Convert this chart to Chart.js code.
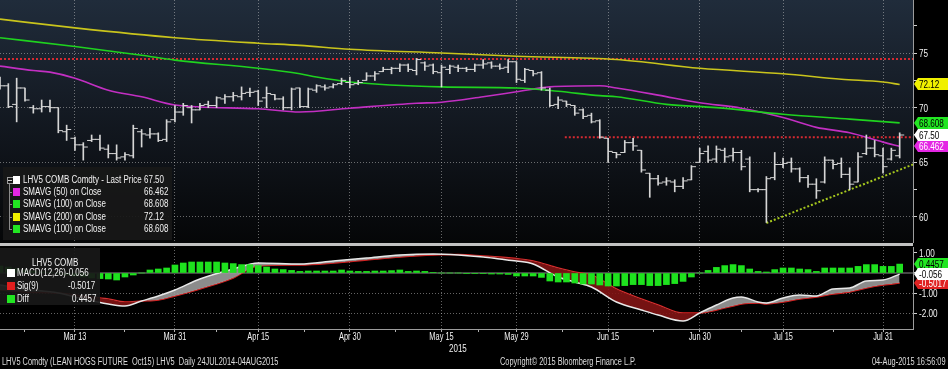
<!DOCTYPE html>
<html>
<head>
<meta charset="utf-8">
<script src="https://cdn.jsdelivr.net/npm/chart.js@4.4.1/dist/chart.umd.min.js"></script>
<style>
  html, body { margin: 0; padding: 0; background: #000; }
  body { width: 948px; height: 369px; position: relative; overflow: hidden;
         font-family: "Liberation Sans", Arial, sans-serif; color: #f2f2f2; }
  canvas { position: absolute; left: 0; }
  #main { top: 0; }
  #macd { top: 246px; }
  .sep { position: absolute; left: 0; top: 243px; width: 913px; height: 3px; background: #c2c2c2; }
  .box { position: absolute; background: rgba(24, 24, 24, 0.93); }
  .t { position: absolute; white-space: pre; font-size: 10px; line-height: 12px;
       transform: scaleX(0.8); transform-origin: 0 0; }
  .sw { position: absolute; width: 7px; height: 8px; }
  .tree { position: absolute; background: #8a8a8a; }
  .foot { position: absolute; top: 356px; white-space: pre; font-size: 10px; line-height: 12px; color: #dcdcdc;
          transform: scaleX(0.74); transform-origin: 0 0; }
</style>
</head>
<body>
<canvas id="main" width="948" height="243"></canvas>
<div class="sep"></div>
<canvas id="macd" width="948" height="123"></canvas>

<!-- price legend -->
<div class="box" style="left:3px;top:167px;width:169px;height:73px;"></div>
<div class="tree" style="left:7px;top:177px;width:5px;height:5px;background:none;border:1px solid #9a9a9a;"></div>
<div class="tree" style="left:8px;top:180px;width:4px;height:1px;background:#cfcfcf;"></div>
<div class="tree" style="left:9px;top:184px;width:1px;height:45px;"></div>
<div class="tree" style="left:9px;top:192px;width:3px;height:1px;"></div>
<div class="tree" style="left:9px;top:204px;width:3px;height:1px;"></div>
<div class="tree" style="left:9px;top:217px;width:3px;height:1px;"></div>
<div class="tree" style="left:9px;top:229px;width:3px;height:1px;"></div>
<div class="sw" style="left:13px;top:176px;background:#ffffff;"></div>
<div class="sw" style="left:13px;top:188px;background:#e426e4;"></div>
<div class="sw" style="left:13px;top:200px;background:#22e622;"></div>
<div class="sw" style="left:13px;top:213px;background:#f0f000;"></div>
<div class="sw" style="left:13px;top:225px;background:#22e622;"></div>
<div class="t" style="left:23px;top:174px;">LHV5 COMB Comdty - Last Price</div>
<div class="t" style="left:23px;top:186px;">SMAVG (50) on Close</div>
<div class="t" style="left:23px;top:198px;">SMAVG (100) on Close</div>
<div class="t" style="left:23px;top:211px;">SMAVG (200) on Close</div>
<div class="t" style="left:23px;top:223px;">SMAVG (100) on Close</div>
<div class="t" style="left:144px;top:174px;">67.50</div>
<div class="t" style="left:144px;top:186px;">66.462</div>
<div class="t" style="left:144px;top:198px;">68.608</div>
<div class="t" style="left:144px;top:211px;">72.12</div>
<div class="t" style="left:144px;top:223px;">68.608</div>

<!-- macd legend -->
<div class="box" style="left:0;top:248px;width:100px;height:57px;"></div>
<div class="t" style="left:32px;top:257px;">LHV5 COMB</div>
<div class="sw" style="left:7px;top:269px;width:8px;background:#ffffff;"></div>
<div class="sw" style="left:7px;top:282px;width:8px;background:#e01e1e;"></div>
<div class="sw" style="left:7px;top:295px;width:8px;background:#22e622;"></div>
<div class="t" style="left:17px;top:267px;">MACD(12,26)</div>
<div class="t" style="left:17px;top:280px;">Sig(9)</div>
<div class="t" style="left:17px;top:293px;">Diff</div>
<div class="t" style="left:66px;top:267px;">-0.056</div>
<div class="t" style="left:68px;top:280px;">-0.5017</div>
<div class="t" style="left:72px;top:293px;">0.4457</div>

<div class="t" style="left:449px;top:343px;">2015</div>
<div class="foot" style="left:2px;">LHV5 Comdty (LEAN HOGS FUTURE  Oct15) LHV5  Daily 24JUL2014-04AUG2015</div>
<div class="foot" style="left:500px;">Copyright© 2015 Bloomberg Finance L.P.</div>
<div class="foot" style="right:2px;transform-origin:100% 0;">04-Aug-2015 16:56:09</div>

<script>
// trading-day index of each dated gridline (day 0 = 2 Mar 2015, last bar = 4 Aug 2015)
const tickIdx = [9, 21, 31, 42, 53, 62, 73, 84, 94, 106];
const tickLabels = ['Mar 13', 'Mar 31', 'Apr 15', 'Apr 30', 'May 15', 'May 29', 'Jun 15', 'Jun 30', 'Jul 15', 'Jul 31'];
const priceTicks = [60, 62.5, 65, 67.5, 70, 72.5, 75, 77.5];
const macdTicks = [1, 0, -1, -2];

// daily OHLC, LHV5
const open = [72.6, 72.0, 70.3, 71.8, 70.0, 69.9, 70.1, 70.0, 67.8, 67.2,
  66.6, 67.0, 67.1, 66.2, 65.8, 65.5, 65.6, 67.8, 67.5, 67.6,
  67.1, 68.9, 69.6, 70.0, 69.8, 70.3, 70.2, 70.8, 71.0, 71.0,
  71.4, 71.5, 70.9, 71.2, 70.8, 70.0, 71.8, 70.1, 71.6, 71.9,
  71.9, 72.2, 72.3, 72.2, 72.5, 72.9, 73.3, 73.5, 73.6, 73.9,
  73.4, 74.1, 73.9, 73.2, 73.5, 73.7, 73.6, 73.5, 73.9, 74.1,
  73.8, 73.7, 74.2, 72.5, 73.4, 73.2, 71.6, 70.3, 70.6, 70.2,
  69.8, 69.3, 68.8, 67.2, 65.9, 65.9, 66.8, 66.1, 64.0, 63.5,
  63.2, 63.2, 62.8, 63.4, 65.0, 66.0, 65.3, 66.1, 65.6, 65.9,
  65.3, 62.5, 62.5, 63.6, 64.8, 65.0, 64.4, 63.6, 63.0, 63.2,
  65.2, 64.9, 63.9, 63.2, 65.8, 66.3, 65.6, 65.3, 65.6];
const high = [72.8, 72.2, 72.7, 71.8, 70.2, 70.7, 70.7, 70.0, 68.4, 67.3,
  66.8, 67.5, 67.5, 66.6, 66.6, 65.9, 68.4, 68.0, 68.1, 67.7,
  68.9, 70.2, 70.4, 70.2, 70.4, 70.6, 71.0, 71.2, 71.4, 71.9,
  71.8, 71.6, 71.9, 71.2, 71.0, 71.8, 71.8, 71.8, 72.1, 72.1,
  72.2, 72.7, 72.8, 72.5, 73.2, 73.3, 73.7, 73.7, 74.0, 74.0,
  74.5, 74.2, 74.0, 73.9, 73.9, 73.9, 73.7, 74.0, 74.4, 74.2,
  74.0, 74.4, 74.2, 73.6, 73.4, 73.3, 71.8, 71.0, 70.6, 70.2,
  69.9, 69.5, 68.9, 67.2, 65.9, 67.0, 67.2, 66.1, 64.0, 63.8,
  63.6, 63.4, 63.6, 64.7, 66.3, 66.5, 66.5, 66.3, 66.3, 66.1,
  65.5, 62.6, 63.7, 65.9, 65.4, 65.4, 64.5, 63.8, 63.5, 65.5,
  65.2, 65.4, 64.5, 65.9, 67.5, 67.0, 66.3, 66.3, 67.7];
const low = [71.7, 70.0, 68.7, 70.6, 69.5, 69.6, 69.6, 67.7, 67.0, 66.1,
  65.2, 66.9, 66.1, 65.4, 65.2, 65.2, 65.4, 66.4, 67.2, 66.9,
  66.9, 68.7, 69.3, 68.6, 69.8, 70.0, 70.0, 70.4, 70.6, 70.7,
  71.0, 70.2, 70.0, 70.7, 69.8, 69.8, 70.0, 70.0, 71.4, 71.6,
  71.8, 72.1, 71.8, 72.1, 72.5, 72.5, 73.3, 73.1, 73.3, 73.3,
  73.0, 73.4, 73.1, 71.9, 73.1, 73.3, 73.3, 73.3, 73.6, 73.6,
  73.5, 73.2, 72.3, 72.3, 72.9, 71.6, 70.1, 69.9, 70.1, 69.3,
  69.0, 68.6, 67.2, 65.0, 65.4, 65.9, 66.1, 64.1, 61.8, 62.9,
  62.9, 62.3, 62.6, 63.4, 65.0, 65.0, 65.0, 65.0, 65.1, 64.3,
  62.3, 62.3, 59.5, 63.4, 64.5, 64.1, 63.2, 62.7, 61.7, 63.1,
  64.4, 63.6, 62.5, 63.2, 65.7, 65.5, 64.0, 65.2, 65.4];
const close = [72.0, 70.1, 71.8, 70.7, 69.9, 70.1, 70.0, 67.9, 68.0, 66.6,
  66.4, 67.1, 66.3, 65.8, 65.4, 65.7, 68.1, 67.6, 67.6, 67.0,
  68.7, 69.6, 70.2, 69.8, 70.2, 70.2, 70.9, 71.0, 71.1, 71.3,
  71.4, 70.6, 71.3, 70.8, 70.0, 71.7, 70.1, 71.7, 72.0, 71.8,
  72.1, 72.5, 72.1, 72.3, 72.9, 73.1, 73.5, 73.6, 73.9, 73.5,
  74.4, 73.8, 73.3, 73.7, 73.8, 73.6, 73.5, 73.9, 74.0, 73.8,
  73.6, 74.2, 72.6, 73.5, 73.1, 71.8, 70.2, 70.7, 70.3, 69.5,
  69.2, 68.7, 67.3, 66.0, 65.7, 66.8, 66.5, 64.3, 63.5, 63.1,
  63.3, 62.8, 63.3, 64.6, 65.8, 65.2, 66.2, 65.5, 65.9, 64.6,
  62.5, 62.5, 63.5, 64.8, 64.9, 64.4, 63.6, 63.0, 62.4, 65.2,
  64.8, 63.9, 63.0, 65.5, 66.3, 65.7, 64.6, 66.1, 67.5];

// moving averages read at [day, value]
const sma50 = [[0, 73.8], [4, 73.4], [6, 73.25], [9, 72.7], [13, 71.6], [17, 71.0], [21, 70.25],
  [31, 69.9], [36, 69.6], [42, 69.95], [50, 70.4], [53, 70.5], [58, 71.0], [62, 71.45], [66, 71.9],
  [72, 72.0], [74, 71.8], [79, 71.15], [84, 70.45], [89, 69.95], [94, 69.1], [98, 68.2],
  [102, 67.7], [106, 66.85], [108, 66.462]];
const sma100 = [[0, 76.4], [9, 75.6], [17, 74.8], [21, 74.35], [31, 73.6], [36, 73.1], [38, 72.8],
  [42, 72.35], [53, 71.9], [62, 71.8], [67, 71.5], [72, 71.1], [74, 71.0], [80, 70.3], [86, 70.0],
  [94, 69.4], [102, 68.95], [108, 68.608]];
const sma200 = [[0, 78.1], [9, 77.3], [21, 76.4], [31, 75.9], [36, 75.7], [42, 75.35], [53, 75.0],
  [62, 74.7], [74, 74.4], [84, 73.6], [94, 73.1], [101, 72.6], [106, 72.35], [108, 72.12]];

// drawn levels
const resistance = 74.45;
const neckline = { from: 67.8, level: 67.3 };
const trendline = [[92, 59.45], [109.6, 64.8]];

// MACD panel, read at [day, value]
const macd = [[0, -0.6], [3, -0.8], [7, -1.0], [10, -1.3], [13, -1.55], [15, -1.65], [17, -1.4],
  [19, -1.15], [21, -0.85], [24, -0.3], [28, 0.2], [31, 0.5], [36, 0.45], [40, 0.6], [44, 0.75],
  [48, 0.9], [52, 0.95], [55, 0.9], [58, 0.8], [60, 0.7], [62, 0.6], [64, 0.45], [67, -0.2],
  [69, -0.45], [71, -0.7], [74, -1.45], [77, -1.85], [79, -2.1], [82, -2.4], [84, -2.0],
  [86, -1.6], [88, -1.25], [89, -1.2], [91, -1.45], [92, -1.5], [94, -1.25], [96, -1.1],
  [98, -1.15], [100, -0.8], [102, -0.75], [104, -0.4], [106, -0.35], [108, -0.056]];
const signal = [[0, -0.85], [3, -0.95], [7, -1.0], [10, -1.15], [13, -1.3], [15, -1.45], [17, -1.4],
  [19, -1.35], [21, -1.15], [24, -0.8], [28, -0.25], [31, 0.35], [36, 0.4], [40, 0.5], [44, 0.65],
  [48, 0.8], [52, 0.9], [55, 0.92], [58, 0.85], [60, 0.8], [62, 0.72], [64, 0.6], [67, 0.25],
  [69, 0.05], [71, -0.1], [74, -0.8], [77, -1.3], [79, -1.6], [82, -2.0], [84, -2.0],
  [86, -1.85], [88, -1.65], [89, -1.55], [91, -1.5], [92, -1.55], [94, -1.45], [96, -1.3],
  [98, -1.2], [100, -1.05], [102, -0.95], [104, -0.75], [106, -0.6], [108, -0.5017]];
const diff = [0.35, 0.3, 0.22, 0.15, 0.1, 0.05, 0.02, -0.05, -0.1, -0.15,
  -0.2, -0.25, -0.28, -0.3, -0.35, -0.2, -0.1, 0.0, 0.15, 0.2,
  0.25, 0.4, 0.5, 0.55, 0.55, 0.55, 0.55, 0.5, 0.47, 0.42,
  0.42, 0.37, 0.3, 0.2, 0.17, 0.13, 0.08, 0.1, 0.1, 0.1,
  0.1, 0.15, 0.1, 0.08, 0.08, 0.1, 0.1, 0.12, 0.15, 0.08,
  0.1, 0.08, 0.02, 0.0, 0.0, 0.0, -0.03, -0.03, -0.03, -0.05,
  -0.05, -0.07, -0.15, -0.15, -0.15, -0.22, -0.4, -0.45, -0.45, -0.5,
  -0.55, -0.55, -0.6, -0.65, -0.65, -0.63, -0.58, -0.58, -0.63, -0.63,
  -0.58, -0.53, -0.42, -0.2, 0.0, 0.13, 0.28, 0.37, 0.42, 0.37,
  0.2, 0.08, 0.05, 0.17, 0.25, 0.25, 0.2, 0.17, 0.08, 0.25,
  0.25, 0.25, 0.25, 0.33, 0.42, 0.42, 0.33, 0.33, 0.4457];

const X_MAX = 109.6;
const FONT = '"Liberation Sans", Arial, sans-serif';
const NARROW = 0.74;
const GRID = 'rgba(200, 200, 200, 0.5)';
const BAR = '#d6d6d6';
const last = a => a[a.length - 1][1];
const pts = a => a.map(([x, y]) => ({ x, y }));
const days = close.map((_, i) => i);
const minorX = [tickIdx[0] - (tickIdx[1] - tickIdx[0]) / 2]
  .concat(tickIdx.slice(1).map((v, i) => (v + tickIdx[i]) / 2));

// scales measure label room themselves; the panels here are fixed
const noPad = s => { s.paddingTop = 0; s.paddingBottom = 0; s.paddingLeft = 0; s.paddingRight = 0; };

const narrowText = (ctx, text, x, y, align) => {
  ctx.save();
  ctx.translate(x, y);
  ctx.scale(NARROW, 1);
  ctx.textAlign = align || 'left';
  ctx.fillText(text, 0, 0);
  ctx.restore();
};

const panelBg = {
  id: 'panelBg',
  beforeDraw(chart, args, opts) {
    const { ctx, chartArea: a } = chart;
    const g = ctx.createLinearGradient(0, a.top, 0, a.bottom);
    opts.stops.forEach(([p, c]) => g.addColorStop(p, c));
    ctx.save();
    ctx.fillStyle = g;
    ctx.fillRect(a.left, a.top, a.right - a.left, a.bottom - a.top);
    ctx.restore();
  }
};

// condensed tick labels, Bloomberg style
const axisText = {
  id: 'axisText',
  afterDraw(chart, args, o) {
    const { ctx, chartArea: a } = chart;
    ctx.save();
    ctx.fillStyle = '#f2f2f2';
    ctx.textBaseline = 'middle';
    ctx.font = '11px ' + FONT;
    (o.yLabels || []).forEach(([v, s]) =>
      narrowText(ctx, s, a.right + 6, Math.round(chart.scales.y.getPixelForValue(v)) + 0.5));
    ctx.font = '10px ' + FONT;
    (o.xLabels || []).forEach(([v, s]) =>
      narrowText(ctx, s, chart.scales.x.getPixelForValue(v), a.bottom + 8.5, 'center'));
    ctx.restore();
  }
};

// last-value flags on the right axis
const valueTags = {
  id: 'valueTags',
  afterDraw(chart, args, opts) {
    const { ctx, chartArea: a } = chart;
    const ys = chart.scales.y;
    ctx.save();
    ctx.font = '11px ' + FONT;
    ctx.textBaseline = 'middle';
    opts.items.forEach(t => {
      const py = Math.round(ys.getPixelForValue(t.value));
      const x0 = a.right + 1;
      ctx.fillStyle = t.bg;
      ctx.beginPath();
      ctx.moveTo(x0, py);
      ctx.lineTo(x0 + 4, py - 6);
      ctx.lineTo(chart.width, py - 6);
      ctx.lineTo(chart.width, py + 6);
      ctx.lineTo(x0 + 4, py + 6);
      ctx.closePath();
      ctx.fill();
      ctx.fillStyle = t.fg;
      narrowText(ctx, t.text, x0 + 5, py + 0.5);
    });
    ctx.restore();
  }
};

const lineDs = (data, color, width, extra) => Object.assign({
  type: 'line', data, borderColor: color, borderWidth: width, pointRadius: 0,
  cubicInterpolationMode: 'monotone', fill: false
}, extra || {});

new Chart(document.getElementById('main'), {
  type: 'line',
  data: {
    datasets: [
      { type: 'bar', data: days.map(i => ({ x: i, y: [low[i], high[i]] })),
        backgroundColor: BAR, barThickness: 1, order: 2 },
      { type: 'line', data: days.map(i => ({ x: i - 0.27, y: open[i] })), showLine: false,
        pointStyle: 'line', pointRadius: 2.3, pointBorderWidth: 1, pointBorderColor: BAR, order: 1 },
      { type: 'line', data: days.map(i => ({ x: i + 0.27, y: close[i] })), showLine: false,
        pointStyle: 'line', pointRadius: 2.3, pointBorderWidth: 1, pointBorderColor: BAR, order: 1 },
      lineDs(pts(sma200), '#c9c41c', 1.6, { order: 5 }),
      lineDs(pts(sma100), '#1fd21f', 1.6, { order: 5 }),
      lineDs(pts(sma50), '#c22fc2', 1.6, { order: 5 }),
      lineDs([{ x: 0, y: resistance }, { x: X_MAX, y: resistance }], '#d42a32', 2, { borderDash: [2, 2], order: 6 }),
      lineDs([{ x: neckline.from, y: neckline.level }, { x: X_MAX, y: neckline.level }], '#d42a32', 2, { borderDash: [2, 2], order: 6 }),
      lineDs(pts(trendline), '#a6c81e', 2, { borderDash: [2, 2], order: 6 })
    ]
  },
  options: {
    responsive: false, animation: false, maintainAspectRatio: false,
    layout: { padding: 0, autoPadding: false },
    plugins: {
      legend: { display: false }, tooltip: { enabled: false },
      panelBg: { stops: [[0, '#202c3b'], [0.45, '#141a23'], [1, '#050607']] },
      axisText: { yLabels: priceTicks.filter(v => v % 5 === 0).map(v => [v, String(v)]) },
      valueTags: { items: [
        { value: last(sma200), text: last(sma200).toFixed(2), bg: '#f0f000', fg: '#000' },
        { value: last(sma100), text: last(sma100).toFixed(3), bg: '#22e622', fg: '#000' },
        { value: last(sma50), text: last(sma50).toFixed(3), bg: '#e426e4', fg: '#fff' },
        { value: close[close.length - 1], text: close[close.length - 1].toFixed(2), bg: '#ffffff', fg: '#000' }
      ] }
    },
    scales: {
      x: {
        type: 'linear', min: 0, max: X_MAX, offset: false,
        afterBuildTicks: s => { s.ticks = tickIdx.map(v => ({ value: v })); },
        afterFit: s => { s.height = 0; noPad(s); },
        ticks: { display: false },
        grid: { color: GRID, drawTicks: false, offset: false },
        border: { display: false, dash: [1, 2] }
      },
      y: {
        type: 'linear', position: 'right', min: 57.62, max: 79.85,
        afterBuildTicks: s => { s.ticks = priceTicks.map(v => ({ value: v })); },
        afterFit: s => { s.width = 35; noPad(s); },
        ticks: { callback: () => '' },
        grid: { color: c => (c.tick && c.tick.value % 5 === 0 ? GRID : 'rgba(0,0,0,0)'),
                tickColor: '#cfcfcf', tickLength: 4, tickWidth: 1 },
        border: { display: true, color: '#9c9c9c', dash: [1, 2] }
      }
    }
  },
  plugins: [panelBg, axisText, valueTags]
});

new Chart(document.getElementById('macd'), {
  type: 'line',
  data: {
    datasets: [
      { type: 'bar', data: days.map(i => ({ x: i, y: diff[i] })), backgroundColor: '#1ee21e',
        barThickness: 6, order: 0 },
      lineDs(pts(macd), '#e8e8e8', 1.5, { order: 1,
        fill: { target: '+1', above: 'rgba(155,155,155,0.9)', below: 'rgba(130,20,20,0.9)' } }),
      lineDs(pts(signal), '#e02222', 1.5, { order: 2 }),
      lineDs([{ x: 0, y: 0 }, { x: X_MAX, y: 0 }], '#8c8c8c', 1, { order: 4 })
    ]
  },
  options: {
    responsive: false, animation: false, maintainAspectRatio: false,
    layout: { padding: { top: 1, left: 0, right: 0, bottom: 0 }, autoPadding: false },
    plugins: {
      legend: { display: false }, tooltip: { enabled: false },
      axisText: {
        yLabels: macdTicks.filter(v => v !== 0).map(v => [v, v.toFixed(2)]),
        xLabels: tickIdx.map((v, k) => [v, tickLabels[k]])
      },
      valueTags: { items: [
        { value: diff[diff.length - 1], text: diff[diff.length - 1].toFixed(4), bg: '#22e622', fg: '#000' },
        { value: last(signal), text: last(signal).toFixed(4), bg: '#e02222', fg: '#fff' },
        { value: last(macd), text: last(macd).toFixed(3), bg: '#ffffff', fg: '#000' }
      ] }
    },
    scales: {
      x: {
        type: 'linear', min: 0, max: X_MAX, offset: false,
        afterBuildTicks: s => { s.ticks = tickIdx.concat(minorX).map(v => ({ value: v })); },
        afterFit: s => { s.height = 40; noPad(s); },
        ticks: { callback: () => '', maxRotation: 0, autoSkip: false },
        grid: { color: c => (c.tick && tickIdx.includes(c.tick.value) ? GRID : 'rgba(0,0,0,0)'),
                tickColor: '#b0b0b0', tickLength: 3, offset: false },
        border: { display: true, color: '#9c9c9c', dash: [1, 2] }
      },
      y: {
        type: 'linear', position: 'right', min: -2.8, max: 1.3,
        afterBuildTicks: s => { s.ticks = macdTicks.map(v => ({ value: v })); },
        afterFit: s => { s.width = 35; noPad(s); },
        ticks: { callback: () => '' },
        grid: { color: c => (c.tick && c.tick.value < 0 ? GRID : 'rgba(0,0,0,0)'),
                tickColor: '#cfcfcf', tickLength: 4 },
        border: { display: true, color: '#9c9c9c', dash: [1, 2] }
      }
    }
  },
  plugins: [axisText, valueTags]
});
</script>
</body>
</html>
